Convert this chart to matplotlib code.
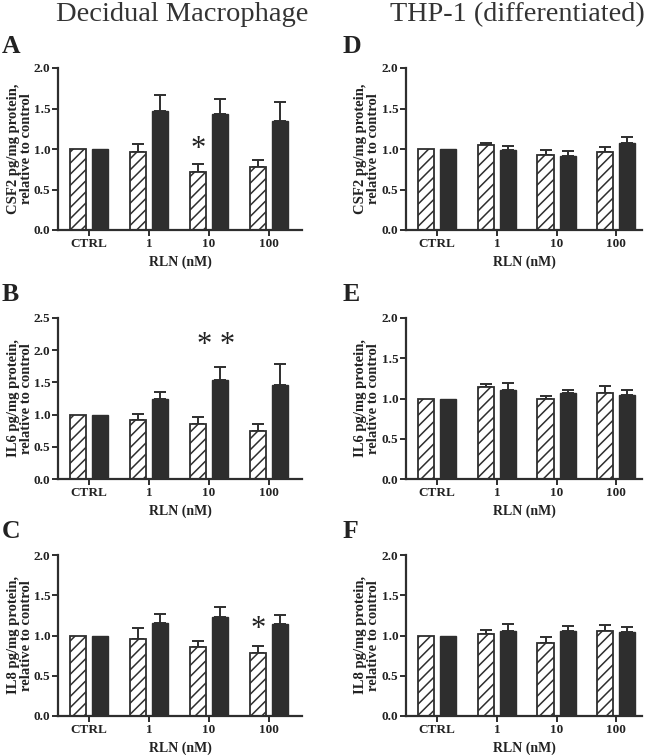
import matplotlib
matplotlib.use("Agg")
import matplotlib.pyplot as plt
import numpy as np

plt.rcParams['font.family'] = ['Liberation Serif', 'DejaVu Serif']
plt.rcParams['hatch.linewidth'] = 1.1

groups = ["CTRL", "1", "10", "100"]
xlabel = "RLN (nM)"

# Decidual macrophage (hatched / black)
A_hatch = [1.0, 0.96, 0.71, 0.78]
A_hatch_err = [0.0, 0.10, 0.10, 0.09]
A_black = [1.0, 1.47, 1.43, 1.35]
A_black_err = [0.0, 0.20, 0.19, 0.23]

B_hatch = [1.0, 0.91, 0.86, 0.75]
B_hatch_err = [0.0, 0.10, 0.11, 0.11]
B_black = [1.0, 1.25, 1.54, 1.46]
B_black_err = [0.0, 0.10, 0.20, 0.33]

C_hatch = [1.0, 0.96, 0.86, 0.78]
C_hatch_err = [0.0, 0.13, 0.07, 0.09]
C_black = [1.0, 1.16, 1.23, 1.14]
C_black_err = [0.0, 0.11, 0.12, 0.12]

# THP-1
D_hatch = [1.0, 1.05, 0.93, 0.96]
D_hatch_err = [0.0, 0.03, 0.06, 0.06]
D_black = [1.0, 0.99, 0.915, 1.07]
D_black_err = [0.0, 0.05, 0.055, 0.08]

E_hatch = [1.0, 1.145, 0.99, 1.07]
E_hatch_err = [0.0, 0.035, 0.04, 0.09]
E_black = [1.0, 1.10, 1.07, 1.04]
E_black_err = [0.0, 0.09, 0.04, 0.07]

F_hatch = [1.0, 1.02, 0.91, 1.06]
F_hatch_err = [0.0, 0.05, 0.07, 0.07]
F_black = [1.0, 1.05, 1.06, 1.04]
F_black_err = [0.0, 0.09, 0.06, 0.07]

ylabels = {
    "CSF2": "CSF2 pg/mg protein,\nrelative to control",
    "IL6": "IL6 pg/mg protein,\nrelative to control",
    "IL8": "IL8 pg/mg protein,\nrelative to control",
}

W, H = 652, 755
fig = plt.figure(figsize=(W / 100, H / 100), dpi=100)

def ax_at(x0, y0, x1, y1):
    return fig.add_axes([x0 / W, 1 - y1 / H, (x1 - x0) / W, (y1 - y0) / H])

panels = [
    ("A", A_hatch, A_hatch_err, A_black, A_black_err, "CSF2", 2.0, (58, 68, 302, 230), 3.55,
     [(2, -0.185, 1.0, "*")], (2, 53), 33),
    ("B", B_hatch, B_hatch_err, B_black, B_black_err, "IL6", 2.5, (58, 318, 302, 479), 3.55,
     [(2, 0.12, 2.08, "* *")], (2, 301), 33),
    ("C", C_hatch, C_hatch_err, C_black, C_black_err, "IL8", 2.0, (58, 555, 302, 716), 3.55,
     [(3, -0.185, 1.08, "*")], (2, 538), 33),
    ("D", D_hatch, D_hatch_err, D_black, D_black_err, "CSF2", 2.0, (406, 68, 642, 230), 3.43,
     [], (343, 53), 380),
    ("E", E_hatch, E_hatch_err, E_black, E_black_err, "IL6", 2.0, (406, 318, 642, 479), 3.43,
     [], (343, 301), 380),
    ("F", F_hatch, F_hatch_err, F_black, F_black_err, "IL8", 2.0, (406, 555, 642, 716), 3.43,
     [], (343, 538), 380),
]

x = np.arange(len(groups))
bw = 0.27
off = 0.185
dark = "#2e2e2e"

for (letter, hv, he, bv, be, key, ymax, box, xr, stars, lpos, ylx) in panels:
    ax = ax_at(*box)
    ax.bar(x - off, hv, bw, facecolor="white", edgecolor=dark, hatch="///",
           linewidth=1.3, zorder=2)
    ax.bar(x + off, bv, bw, facecolor=dark, edgecolor=dark, linewidth=1.0, zorder=2)
    for xs, vals, errs in ((x - off, hv, he), (x + off, bv, be)):
        for xi, v, e in zip(xs, vals, errs):
            if e > 0:
                ax.errorbar(xi, v, yerr=[[0], [e]], fmt="none", ecolor=dark,
                            elinewidth=1.4, capsize=4.2, capthick=1.4, zorder=1)
    ax.set_xlim(-0.52, xr)
    ax.set_ylim(0, ymax)
    yt = np.arange(0, ymax + 0.01, 0.5)
    ax.set_yticks(yt)
    ax.set_yticklabels([f"{t:.1f}" for t in yt])
    ax.set_xticks(x)
    ax.set_xticklabels(groups)
    for s in ["top", "right"]:
        ax.spines[s].set_visible(False)
    for s in ["left", "bottom"]:
        ax.spines[s].set_linewidth(1.6)
        ax.spines[s].set_color(dark)
    ax.tick_params(axis="both", direction="out", length=4, width=1.4, color=dark,
                   labelcolor="#222222", pad=2)
    ax.tick_params(axis="x", labelsize=9.5)
    ax.tick_params(axis="y", labelsize=9.5, pad=1.5)
    for lab in ax.get_xticklabels() + ax.get_yticklabels():
        lab.set_fontweight("bold")
    ax.set_ylabel(ylabels[key], fontsize=10.5, fontweight="bold", color="#222222",
                  linespacing=1.0)
    ax.yaxis.set_label_coords((ylx - box[0]) / (box[2] - box[0]), 0.5)
    ax.set_xlabel(xlabel, fontsize=10, fontweight="bold", color="#222222", labelpad=4)
    for (g, dx, yv, txt) in stars:
        ax.text(g + dx, yv, txt, ha="center", va="center", fontsize=22,
                color="#222222")
    fig.text(lpos[0] / W, 1 - lpos[1] / H, letter, fontsize=18.5, fontweight="bold",
             color="#222222", va="baseline", ha="left")

fig.text(182 / W, 1 - 21 / H, "Decidual Macrophage", fontsize=20.5, color="#333333",
         ha="center", va="baseline")
fig.text(517 / W, 1 - 21 / H, "THP-1 (differentiated)", fontsize=20.3, color="#333333",
         ha="center", va="baseline")

fig.savefig("out.png", dpi=100)
